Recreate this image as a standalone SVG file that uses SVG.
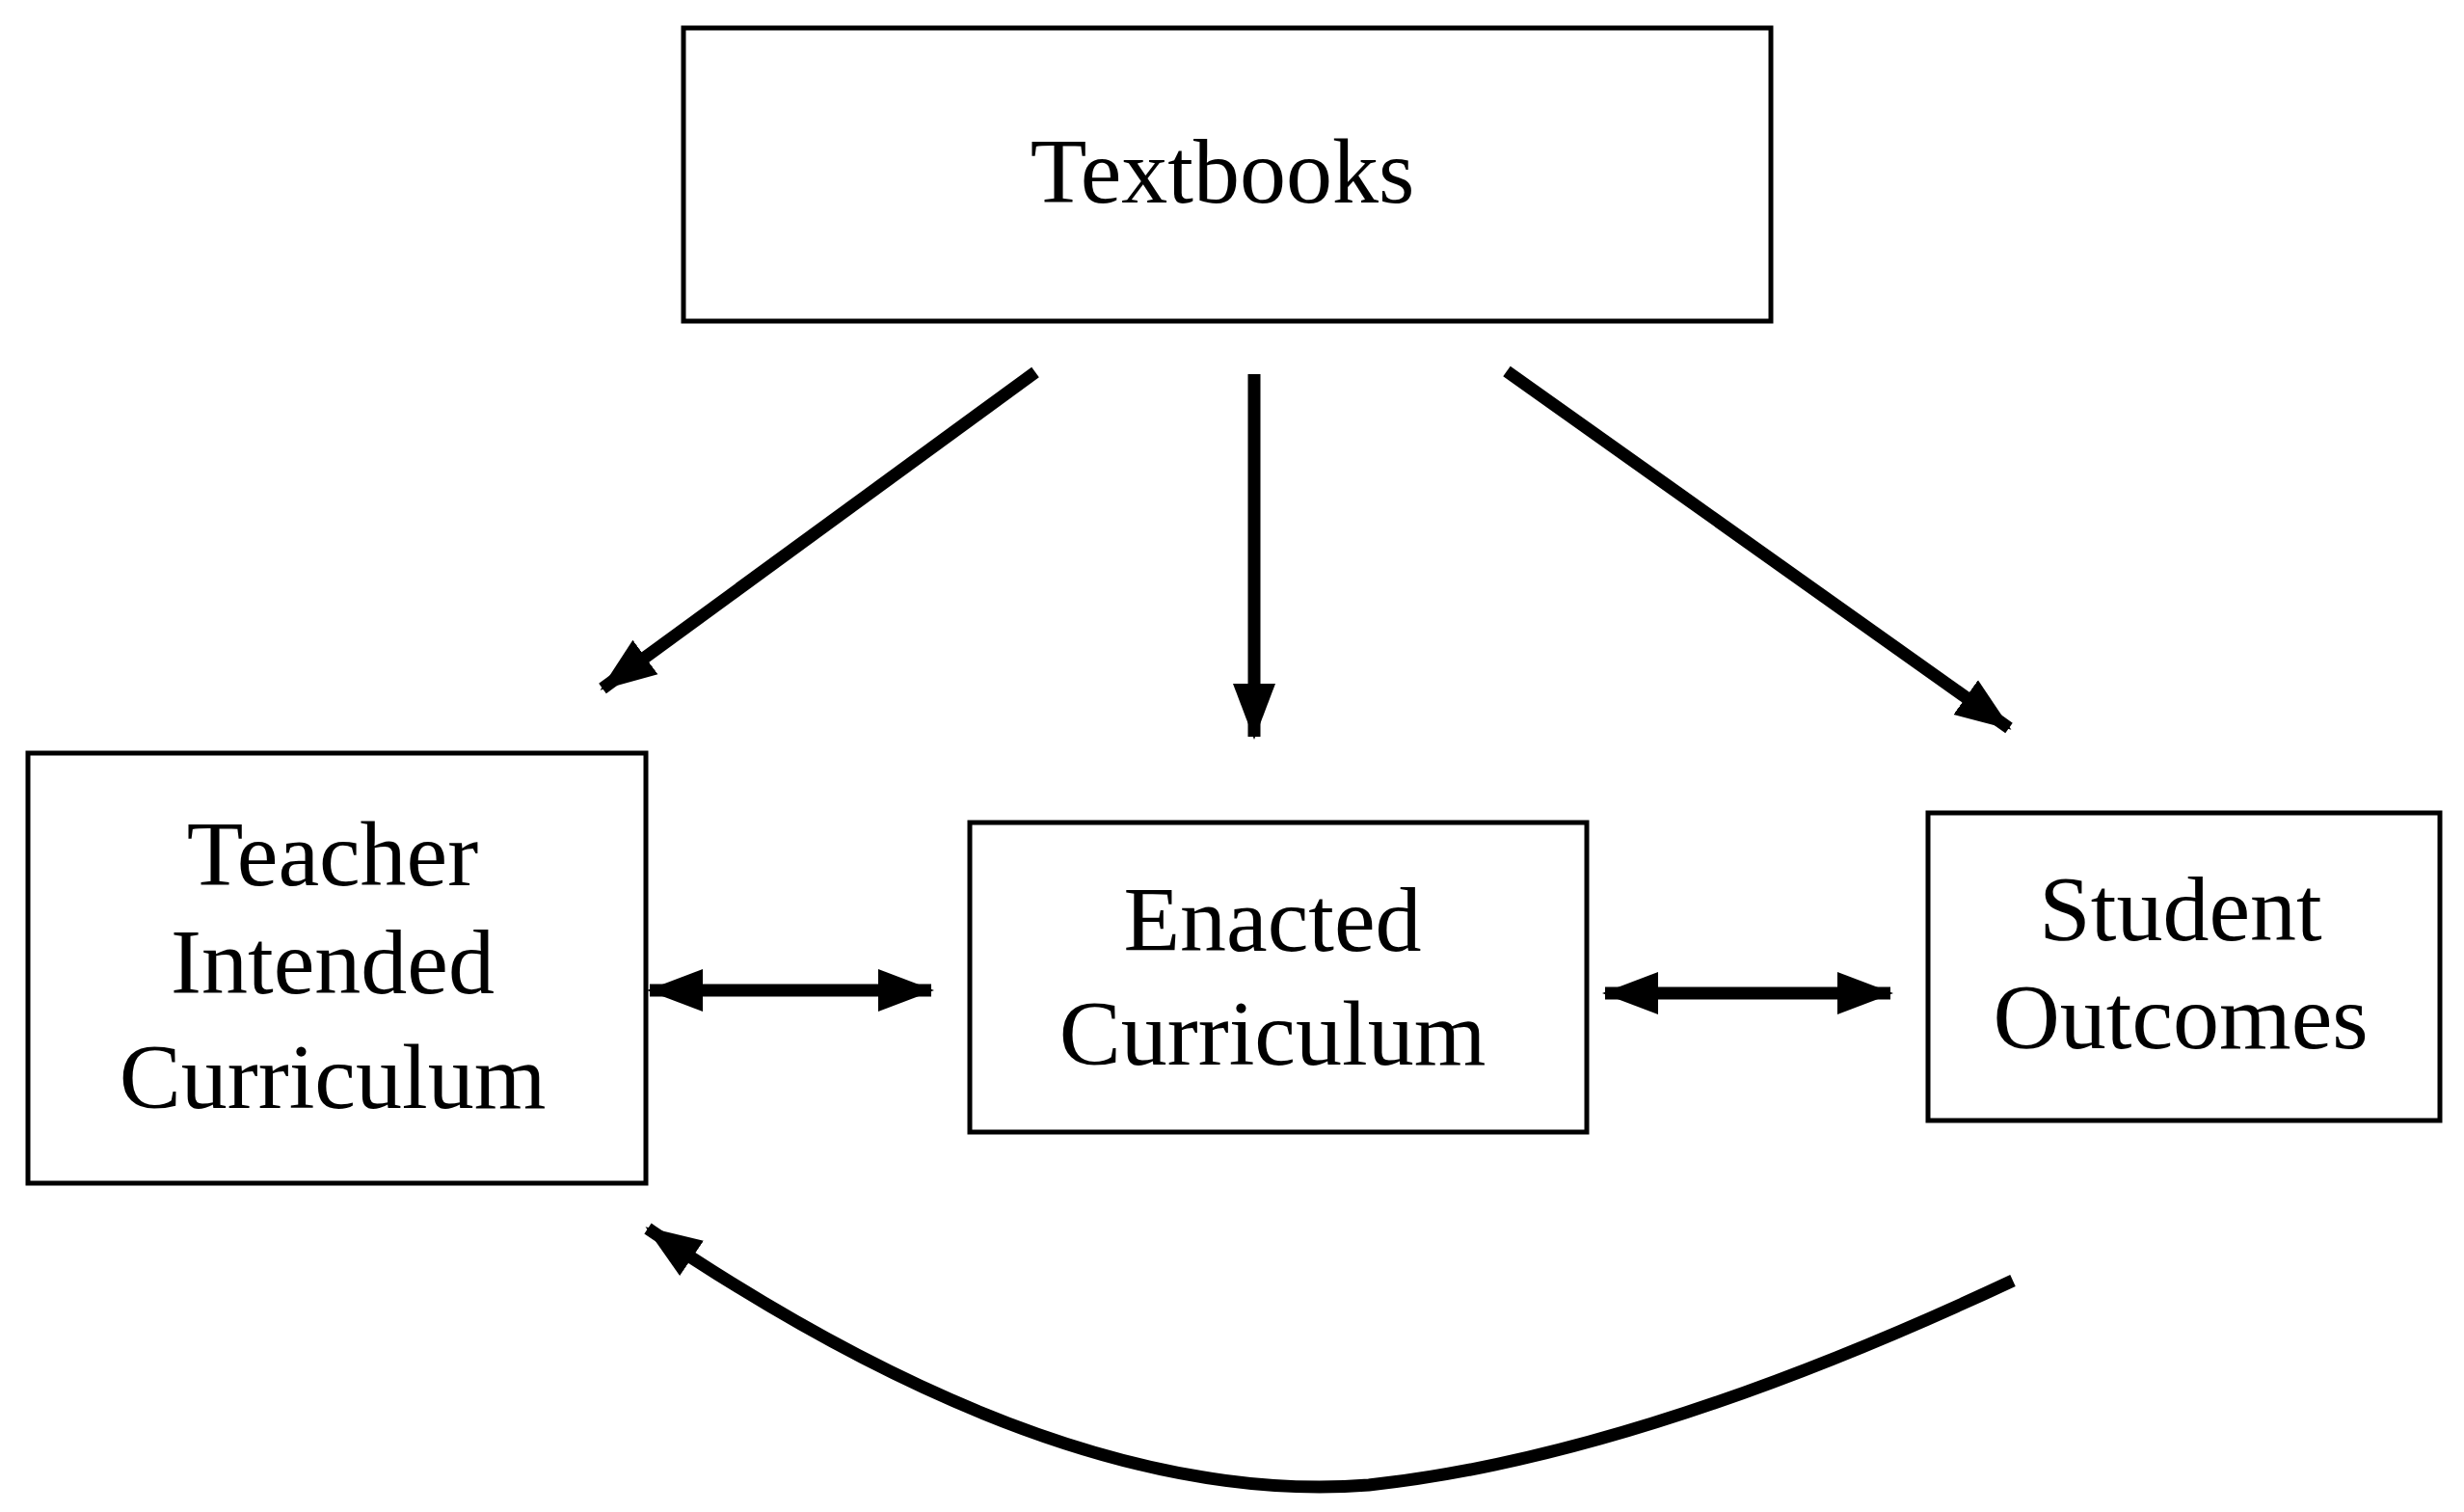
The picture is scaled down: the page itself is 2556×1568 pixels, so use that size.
<svg xmlns="http://www.w3.org/2000/svg" width="2556" height="1568" viewBox="0 0 2556 1568">
<style>
.box{fill:#fff;stroke:#000;stroke-width:5}
.t{font-family:"Liberation Serif",serif;font-size:96px;text-anchor:middle;fill:#000}
.c{fill:none;stroke:#000;stroke-width:13}
</style>
<defs>
<marker id="a" markerUnits="userSpaceOnUse" markerWidth="60" markerHeight="60" viewBox="0 0 60 60" refX="55" refY="30" orient="auto-start-reverse"><path d="M0,8 L58,30 L0,52 Z" fill="#000"/></marker>
</defs>
<rect width="2556" height="1568" fill="#fff"/>
<g id="textbooks"><rect class="box" x="709" y="29" width="1128" height="304"/><text class="t" x="1268" y="210">Textbooks</text></g>
<g id="teacher"><rect class="box" x="29" y="781" width="641" height="446"/><text class="t" x="345" y="918">Teacher</text><text class="t" x="345" y="1030">Intended</text><text class="t" x="345" y="1149">Curriculum</text></g>
<g id="enacted"><rect class="box" x="1006" y="853" width="640" height="321"/><text class="t" x="1320" y="986">Enacted</text><text class="t" x="1320" y="1104">Curriculum</text></g>
<g id="student"><rect class="box" x="2000" y="843" width="531" height="319"/><text class="t" x="2262" y="975">Student</text><text class="t" x="2262" y="1087">Outcomes</text></g>
<g id="connectors">
<line class="c" x1="1074" y1="386" x2="625" y2="714" marker-end="url(#a)"/>
<line class="c" x1="1301" y1="388" x2="1301" y2="764" marker-end="url(#a)"/>
<line class="c" x1="1563" y1="385" x2="2084" y2="755" marker-end="url(#a)"/>
<line class="c" x1="674" y1="1027" x2="966" y2="1027" marker-start="url(#a)" marker-end="url(#a)"/>
<line class="c" x1="1665" y1="1030" x2="1961" y2="1030" marker-start="url(#a)" marker-end="url(#a)"/>
<path class="c" d="M2088,1328 Q1700,1510 1420,1540 Q1100,1565 672,1274" marker-end="url(#a)"/>
</g>
</svg>
